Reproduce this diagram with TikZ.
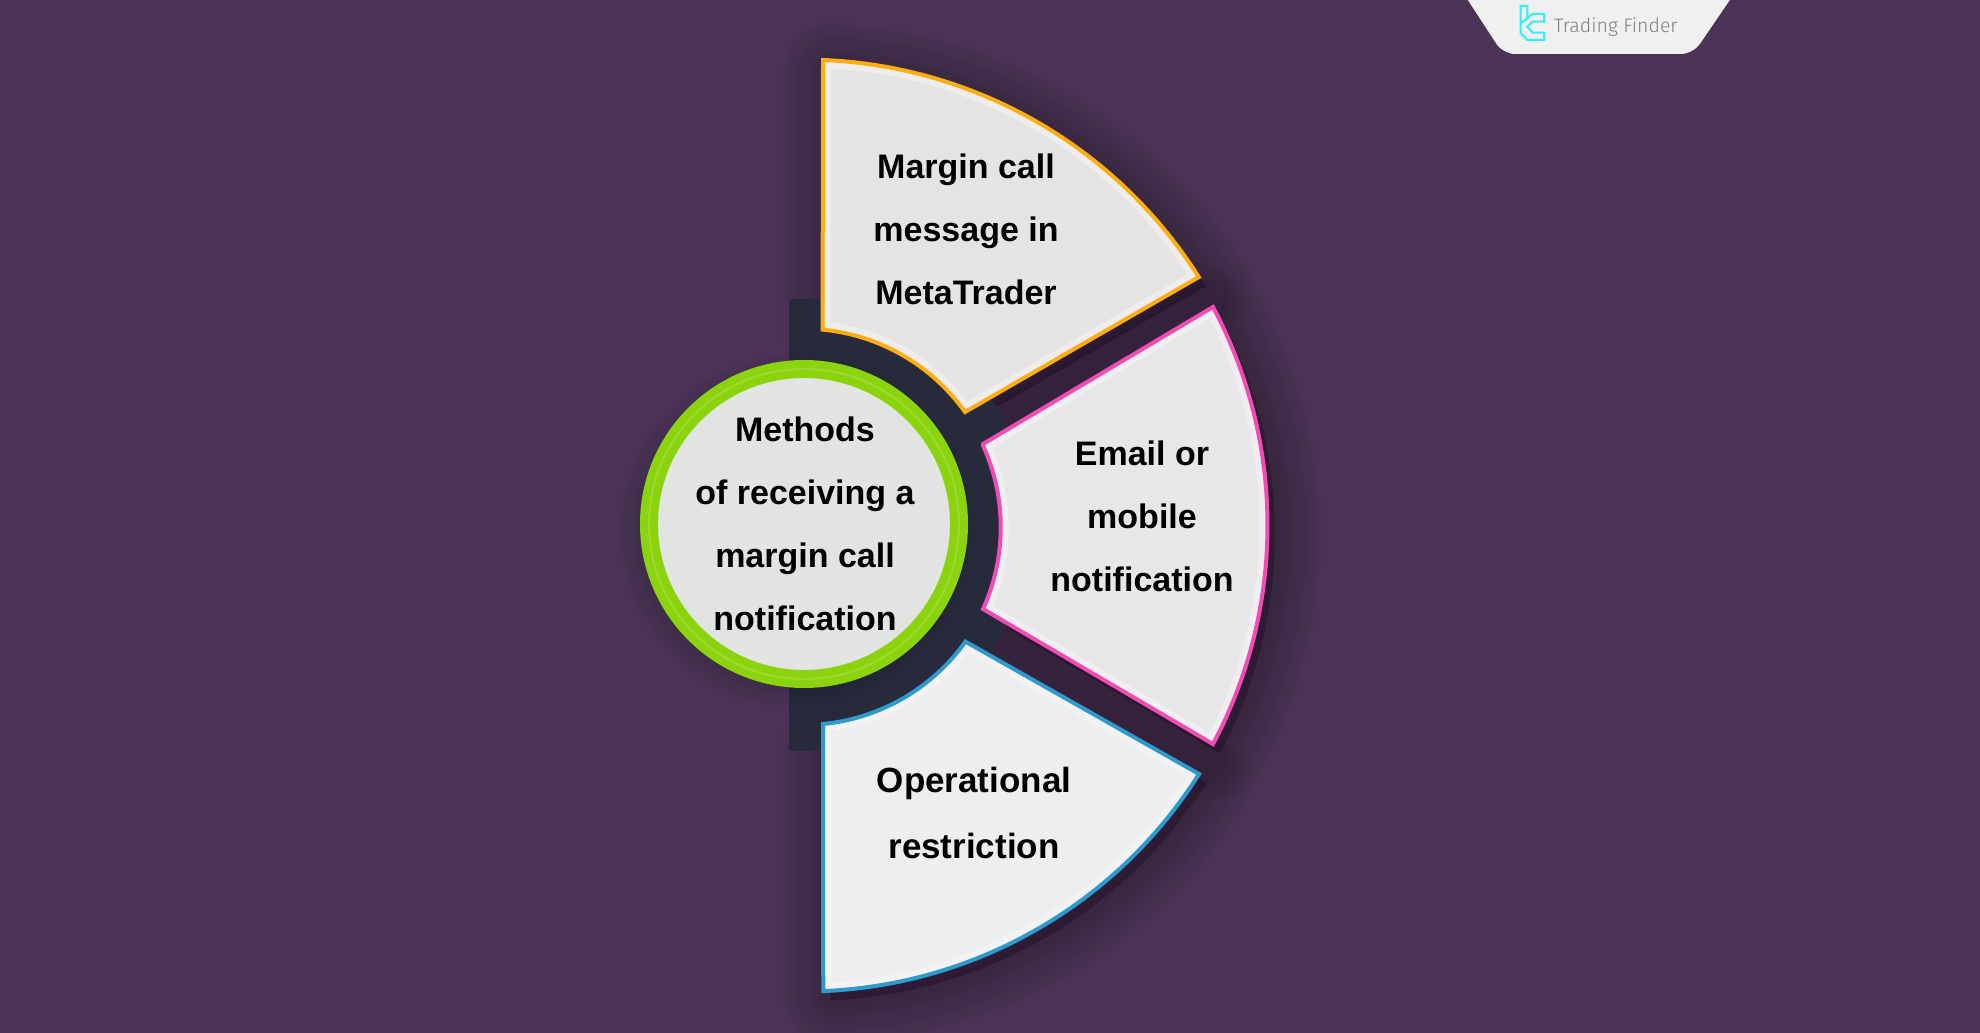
\documentclass[tikz,border=0pt]{standalone}
\usepackage{fontspec}
\setmainfont{Liberation Sans}
\newfontfamily\logofont{Fira Sans Light}
\definecolor{bgcol}{HTML}{4B3357}
\definecolor{bandcol}{HTML}{262A3A}
\definecolor{orangefill}{HTML}{E6E3E3}
\definecolor{pinkfill}{HTML}{E8E6E8}
\definecolor{bluefill}{HTML}{EDEEF0}
\definecolor{circlefill}{HTML}{E1E4E1}
\definecolor{tabcol}{HTML}{F0F0F0}
\definecolor{orangecol}{HTML}{FFAE12}
\definecolor{pinkcol}{HTML}{F04CB4}
\definecolor{bluecol}{HTML}{2E9BCF}
\definecolor{greencol}{HTML}{8BD30C}
\definecolor{logocol}{HTML}{2FF0F5}
\newcommand{\orangepath}{(823bp,973bp) arc[start angle=87.67,end angle=32.3,radius=467bp] -- (965bp,621bp) arc[start angle=35.4,end angle=84.5,radius=198bp] -- cycle}
\newcommand{\pinkpath}{(983bp,589bp) -- (1213bp,726bp) arc[start angle=28,end angle=-28,radius=465.5bp] -- (983bp,424bp) arc[start angle=-24.5,end angle=24.5,radius=197bp] -- cycle}
\newcommand{\bluepath}{(823bp,309bp) arc[start angle=-84.5,end angle=-35.4,radius=198bp] -- (1199bp,259bp) arc[start angle=-32.3,end angle=-87.67,radius=467bp] -- cycle}
\tikzset{
  sector/.style={draw=#1,line width=4bp,line join=miter},
  bevel/.style={draw=white,opacity=0.35,line width=16bp},
  softshadow/.style={draw=black,fill=black,opacity=0.016,line join=round},
  label/.style={font=\fontsize{34bp}{63bp}\selectfont\bfseries,align=center,text=black},
}
\begin{document}
\begin{tikzpicture}[>=latex,line join=bevel]
  \pgfsetlinewidth{1bp}
  \fill[bgcol] (0bp,0bp) rectangle (1980bp,1033bp);
  \useasboundingbox (0bp,0bp) rectangle (1980bp,1033bp);
  % Shadows
\begin{scope}[shift={(7bp,-9bp)}]
  \foreach \w in {8,16,...,96} {
    \draw[softshadow,line width=\w bp] \orangepath;
    \draw[softshadow,line width=\w bp] \pinkpath;
    \draw[softshadow,line width=\w bp] \bluepath;
  }
\end{scope}
  % Node: band
\begin{scope}
  \clip (789bp,0bp) rectangle (1980bp,1033bp);
  \fill[bandcol] (804bp,508bp) circle[radius=226bp];
\end{scope}
  % Node: orange sector
  \fill[orangefill] \orangepath;
\begin{scope}
  \clip \orangepath;
  \draw[bevel] \orangepath;
\end{scope}
  \draw[sector=orangecol] \orangepath;
  \node[label] (margin) at (966bp,804bp) {Margin call\\message in\\MetaTrader};
  % Node: pink sector
  \fill[pinkfill] \pinkpath;
\begin{scope}
  \clip \pinkpath;
  \draw[bevel] \pinkpath;
\end{scope}
  \draw[sector=pinkcol] \pinkpath;
  \node[label] (email) at (1142bp,517bp) {Email or\\mobile\\notification};
  % Node: blue sector
  \fill[bluefill] \bluepath;
\begin{scope}
  \clip \bluepath;
  \draw[bevel] \bluepath;
\end{scope}
  \draw[sector=bluecol] \bluepath;
  \node[label,font=\fontsize{35bp}{66bp}\selectfont\bfseries] (operational) at (974bp,220bp) {Operational\\restriction};
  % Node: circle
  \foreach \w in {8,16,...,48} {
    \draw[softshadow,line width=\w bp] (797bp,502bp) circle[radius=155bp];
  }
  \draw[draw=greencol,fill=circlefill,line width=18bp] (804bp,509bp) circle[radius=155bp];
  \draw[draw=greencol!85!white,line width=2bp] (804bp,509bp) circle[radius=155bp];
  \node[label] (methods) at (805bp,509bp) {Methods\\of receiving a\\margin call\\notification};
  % Node: logo tab
  \fill[fill=tabcol,rounded corners=12bp] (1460bp,1045bp) -- (1503bp,979bp) -- (1693bp,979bp) -- (1738bp,1045bp) -- cycle;
  \node[text=black!50,font=\fontsize{19.5bp}{22bp}\logofont,anchor=west] (logotext) at (1550bp,1006bp) {Trading Finder};
  \draw[logocol,line width=2bp,line join=miter] (1520.7bp,1027bp) -- (1527.3bp,1027bp) -- (1527.3bp,1014.7bp) -- (1532.3bp,1019bp) -- (1544bp,1019bp) -- (1544bp,1011.3bp) -- (1532.3bp,1011.3bp) -- (1527.3bp,1006.3bp) -- (1532.7bp,1000.3bp) -- (1544bp,1000.3bp) -- (1544bp,993bp) -- (1527.3bp,993bp) -- (1520.7bp,999.7bp) -- cycle;
  \draw[logocol,line width=2bp] (1520.7bp,1010bp) -- (1527.3bp,1014.7bp);
\end{tikzpicture}
\end{document}
